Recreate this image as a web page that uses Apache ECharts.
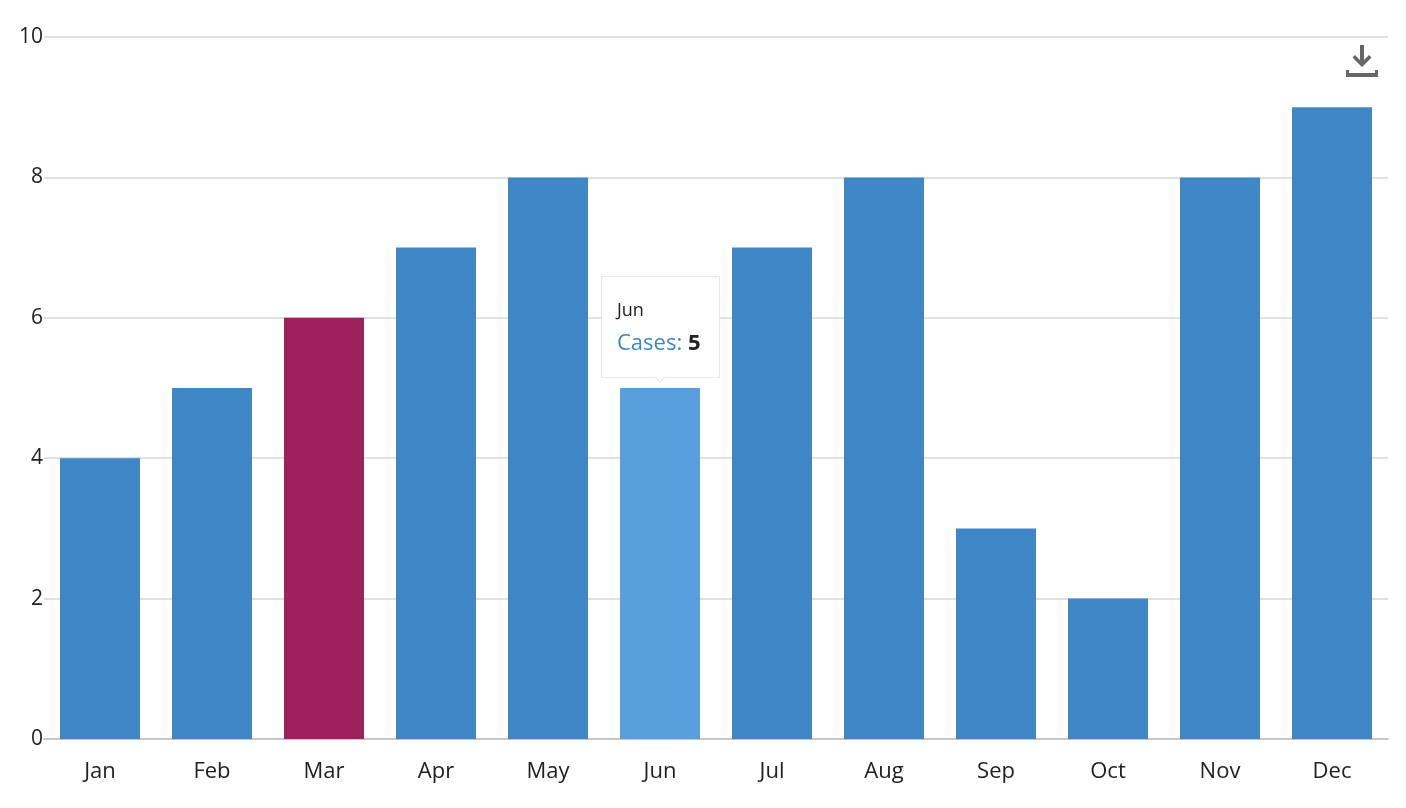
<!DOCTYPE html>
<html lang="en" style="height: 100%">
<head>
  <meta charset="UTF-8">
  <title>Cases per month</title>
  <script src="https://cdn.jsdelivr.net/npm/echarts@6/dist/echarts.min.js"></script>
</head>
<body style="height: 100%; margin: 0; background: #fff">
<div id="container" style="width: 1406px; height: 808px"></div>
<script type="text/javascript">
  var months = ['Jan', 'Feb', 'Mar', 'Apr', 'May', 'Jun', 'Jul', 'Aug', 'Sep', 'Oct', 'Nov', 'Dec'];
  var cases = [4, 5, 6, 7, 8, 5, 7, 8, 3, 2, 8, 9];
  var yTicks = { min: 0, max: 10, interval: 2 };
  var highlightMonth = 'Mar';
  var tipMonth = 'Jun';

  var baseColor = '#3f86c6';
  var markColor = '#9c215c';
  var hoverColor = '#5a9fdd';
  var font = '"Open Sans", "Noto Sans", sans-serif';

  var dom = document.getElementById('container');
  var myChart = echarts.init(dom, null, { renderer: 'canvas' });

  var barData = cases.map(function (v, i) {
    var item = { value: v };
    if (months[i] === highlightMonth) {
      item.itemStyle = { color: markColor };
      item.emphasis = { itemStyle: { color: markColor } };
    }
    return item;
  });

  var option = {
    animation: false,
    textStyle: { fontFamily: font },
    grid: { left: 44, right: 18, top: 37, bottom: 69 },
    toolbox: {
      right: 13,
      top: 30,
      itemSize: 32,
      iconStyle: { color: '#666', borderWidth: 0 },
      emphasis: { iconStyle: { color: '#666', borderWidth: 0 } },
      feature: {
        saveAsImage: {
          title: '',
          icon: 'path://M14,0 L18,0 L18,15 L23,10 L25.5,12.5 L16,22 L6.5,12.5 L9,10 L14,15 Z M0,25 L3,25 L3,28 L29,28 L29,25 L32,25 L32,32 L0,32 Z'
        }
      }
    },
    tooltip: {
      trigger: 'item',
      position: 'top',
      backgroundColor: '#fff',
      borderColor: '#e6e6e6',
      borderWidth: 1,
      padding: [18, 18, 18, 15],
      extraCssText: 'box-shadow: none; border-radius: 0;',
      formatter: function (p) {
        return '<div style="font-family:' + font.replace(/"/g, "'") + ';">' +
          '<div style="font-size:18px;color:#222;line-height:28px;">' + p.name + '</div>' +
          '<div style="font-size:22px;line-height:36px;"><span style="color:' + baseColor + ';">Cases:</span> ' +
          '<b style="color:#222;">' + p.value + '</b></div></div>';
      }
    },
    xAxis: {
      type: 'category',
      data: months,
      axisTick: { show: false },
      axisLine: { lineStyle: { color: '#c8c8c8', width: 2 } },
      axisLabel: { color: '#222', fontSize: 22, margin: 22, fontFamily: font }
    },
    yAxis: {
      type: 'value',
      min: yTicks.min,
      max: yTicks.max,
      interval: yTicks.interval,
      axisLine: { show: false },
      axisTick: { show: false },
      axisLabel: { color: '#222', fontSize: 21, margin: 1, fontFamily: font },
      splitLine: { lineStyle: { color: '#e0e0e0', width: 2 } }
    },
    series: [
      {
        name: 'Cases',
        type: 'bar',
        data: barData,
        barCategoryGap: '28.6%',
        itemStyle: { color: baseColor },
        emphasis: { itemStyle: { color: hoverColor } }
      }
    ]
  };
  myChart.setOption(option);

  var tipIndex = months.indexOf(tipMonth);
  myChart.dispatchAction({ type: 'highlight', seriesIndex: 0, dataIndex: tipIndex });
  myChart.dispatchAction({ type: 'showTip', seriesIndex: 0, dataIndex: tipIndex });

  window.addEventListener('resize', myChart.resize);
</script>
</body>
</html>
